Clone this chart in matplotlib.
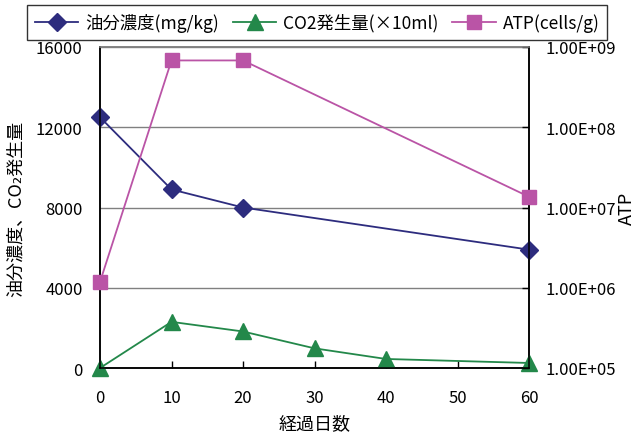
import numpy as np
import matplotlib
matplotlib.use('Agg')
import matplotlib.pyplot as plt
from matplotlib.ticker import FixedLocator, FuncFormatter, NullLocator

plt.rcParams['font.family'] = ['Noto Sans CJK JP', 'DejaVu Sans']

# data
oil_days = [0, 10, 20, 60]
oil_conc = [12500, 8900, 8000, 5900]          # mg/kg

co2_days = [0, 10, 20, 30, 40, 60]
co2_prod = [0, 2300, 1820, 980, 450, 250]     # x10 ml

atp_days = [0, 10, 20, 60]
atp_vals = [1.18e6, 6.8e8, 6.8e8, 1.36e7]     # cells/g

left_ticks = [0, 4000, 8000, 12000, 16000]
right_ticks = [1e5, 1e6, 1e7, 1e8, 1e9]
x_ticks = [0, 10, 20, 30, 40, 50, 60]

c_oil = '#2D2C7E'
c_co2 = '#23884A'
c_atp = '#BA54A6'

fig = plt.figure(figsize=(6.38, 4.39), dpi=100)
ax = fig.add_axes([100/638, 1-369/439, 429/638, 321/439])
ax2 = ax.twinx()

l1, = ax.plot(oil_days, oil_conc, color=c_oil, lw=1.3, marker='D', ms=9,
              clip_on=False, zorder=5, label='油分濃度(mg/kg)')
l2, = ax.plot(co2_days, co2_prod, color=c_co2, lw=1.3, marker='^', ms=12,
              clip_on=False, zorder=5, label='CO2発生量(×10ml)')
l3, = ax2.plot(atp_days, atp_vals, color=c_atp, lw=1.3, marker='s', ms=10.5,
               clip_on=False, zorder=5, label='ATP(cells/g)')

ax.set_xlim(0, 60)
ax.set_ylim(0, 16000)
ax.xaxis.set_major_locator(FixedLocator(x_ticks))
ax.yaxis.set_major_locator(FixedLocator(left_ticks))
ax.yaxis.grid(True, color='#808080', lw=1)
ax.set_axisbelow(True)

ax2.set_yscale('log')
ax2.set_ylim(1e5, 1e9)
ax2.yaxis.set_major_locator(FixedLocator(right_ticks))
ax2.yaxis.set_minor_locator(NullLocator())
ax2.yaxis.set_major_formatter(FuncFormatter(lambda v, p: '%.2E' % v))

ax.tick_params(axis='x', direction='in', length=5, width=1, pad=15, labelsize=12)
ax.tick_params(axis='y', direction='in', length=0, pad=12.5, labelsize=12)
ax2.tick_params(axis='y', direction='in', length=5, width=1, pad=12, labelsize=12)

for a in (ax, ax2):
    a.spines['top'].set_color('#808080')
    a.spines['left'].set_color('black')
    a.spines['bottom'].set_color('black')
    a.spines['right'].set_color('black')
    for s in a.spines.values():
        s.set_linewidth(1.1)

ax.set_xlabel('経過日数', fontsize=13, labelpad=6)
ax.set_ylabel('油分濃度、CO₂発生量', fontsize=13)
ax2.set_ylabel('ATP', fontsize=13)
ax.yaxis.set_label_coords(-0.175, 0.5)
ax2.yaxis.set_label_coords(1.208, 0.5)

leg = fig.legend(handles=[l1, l2, l3], loc='upper left', ncol=3,
                 bbox_to_anchor=(27/638, 1-6/439), fontsize=12.5,
                 frameon=True, fancybox=False, edgecolor='black',
                 handlelength=2.5, columnspacing=0.8, handletextpad=0.4,
                 borderpad=0.45, borderaxespad=0)
leg.get_frame().set_linewidth(1.0)

fig.savefig('out.png', dpi=100)
